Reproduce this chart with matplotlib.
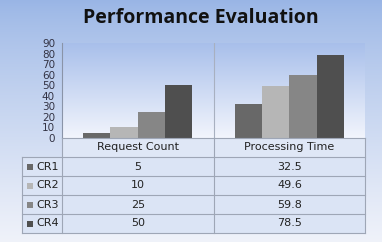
import numpy as np
import matplotlib
matplotlib.use('Agg')
from matplotlib import pyplot as plt
from matplotlib.patches import Rectangle

categories = ['Request Count', 'Processing Time']
series = ['CR1', 'CR2', 'CR3', 'CR4']
cr1 = [5, 32.5]
cr2 = [10, 49.6]
cr3 = [25, 59.8]
cr4 = [50, 78.5]
values = [cr1, cr2, cr3, cr4]
colors = ['#686868', '#b6b6b6', '#868686', '#4f4f4f']

W, H = 382, 242
fig = plt.figure(figsize=(W / 100, H / 100), dpi=100)

# background gradient
bg = fig.add_axes([0, 0, 1, 1])
grad = np.linspace(0, 1, 256).reshape(-1, 1)
top = np.array([0.60, 0.71, 0.90])
bot = np.array([0.94, 0.95, 0.98])
img = top + (bot - top) * grad[:, :, None] ** 0.8
bg.imshow(img, aspect='auto', extent=[0, 1, 0, 1])
bg.axis('off')

ax = fig.add_axes([62 / W, 1 - 138 / H, 303 / W, 95 / H])
ptop = np.array([0.66, 0.75, 0.92])
pbot = np.array([0.95, 0.96, 0.99])
pimg = ptop + (pbot - ptop) * grad[:, :, None]
ax.imshow(pimg, aspect='auto', extent=[-0.5, 1.5, 0, 90], zorder=0)

x = np.arange(len(categories))
bw = 0.18
for i, (s, v) in enumerate(zip(series, values)):
    ax.bar(x + (i - 1.5) * bw, v, bw, color=colors[i], label=s, zorder=2)
ax.set_xlim(-0.5, 1.5)
ax.set_ylim(0, 90)
ax.set_yticks(np.arange(0, 91, 10))
ax.tick_params(axis='y', length=0, labelsize=7.5, colors='#333344', pad=5)
ax.set_xticks([])
for sp in ['top', 'right', 'bottom']:
    ax.spines[sp].set_visible(False)
ax.spines['left'].set_color('#8a94a8')
ax.axvline(0.5, color='#a8b0c0', lw=0.8, zorder=1)

fig.text(0.525, 1 - 18 / H, 'Performance Evaluation', ha='center', va='center',
         fontsize=14, fontweight='bold', color='#111111', family='Open Sans')

# data table
tax = fig.add_axes([0, 0, 1, 1])
tax.set_xlim(0, W)
tax.set_ylim(H, 0)
tax.axis('off')
col_x = [22, 62, 214, 365]
row_y = [138, 157, 176, 195, 214, 233]
ec = '#9ea6b6'
for r in range(1, 5):
    tax.add_patch(Rectangle((col_x[0], row_y[r]), col_x[3] - col_x[0], row_y[r + 1] - row_y[r],
                            facecolor='#dbe4f5', edgecolor='none'))
tax.add_patch(Rectangle((col_x[1], row_y[0]), col_x[3] - col_x[1], row_y[1] - row_y[0],
                        facecolor='#dfe7f6', edgecolor='none'))
for yy in row_y:
    x0 = col_x[1] if yy == row_y[0] else col_x[0]
    tax.plot([x0, col_x[3]], [yy, yy], color=ec, lw=0.8)
tax.plot([col_x[0], col_x[0]], [row_y[1], row_y[-1]], color=ec, lw=0.8)
for cx in col_x[1:]:
    tax.plot([cx, cx], [row_y[0], row_y[-1]], color=ec, lw=0.8)

for j, c in enumerate(categories):
    tax.text((col_x[j + 1] + col_x[j + 2]) / 2, (row_y[0] + row_y[1]) / 2, c,
             ha='center', va='center', fontsize=8, color='#222222')
for i, s in enumerate(series):
    yc = (row_y[i + 1] + row_y[i + 2]) / 2
    tax.add_patch(Rectangle((27, yc - 3), 6, 6, facecolor=colors[i], edgecolor='none'))
    tax.text(36, yc, s, ha='left', va='center', fontsize=8, color='#222222')
    for j in range(len(categories)):
        tax.text((col_x[j + 1] + col_x[j + 2]) / 2, yc, f'{values[i][j]:g}',
                 ha='center', va='center', fontsize=8, color='#222222')

fig.savefig('out.png', dpi=100)
